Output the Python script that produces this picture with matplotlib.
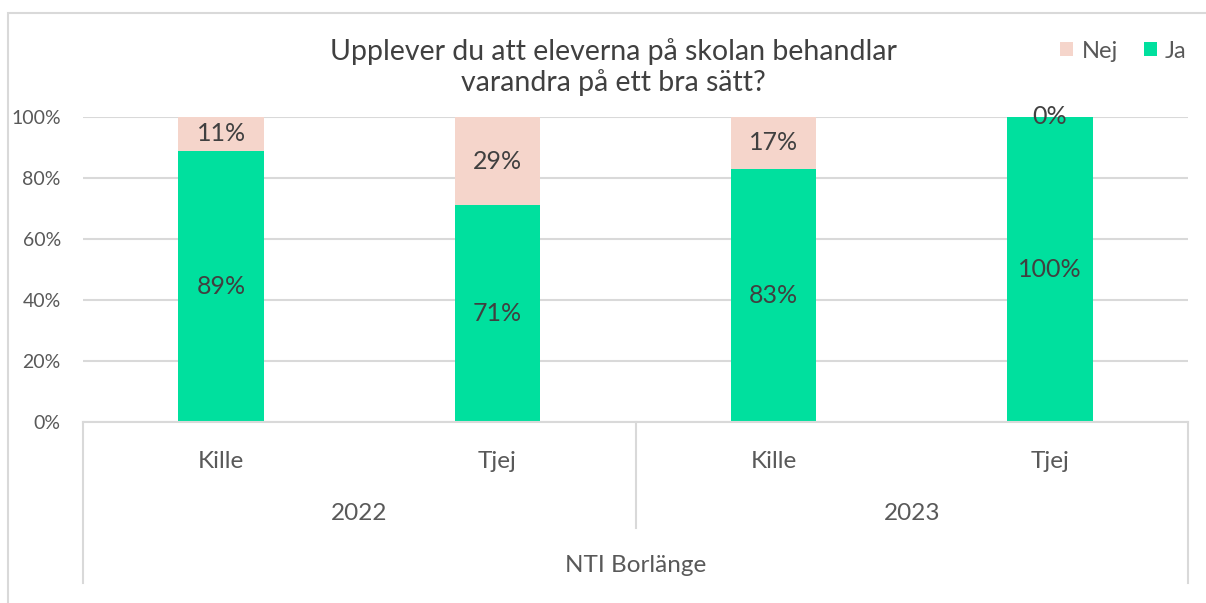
import numpy as np
import matplotlib.pyplot as plt
from matplotlib.lines import Line2D
from matplotlib.patches import Rectangle

# data
genders = ["Kille", "Tjej", "Kille", "Tjej"]
years = ["2022", "2023"]
school = "NTI Borlänge"
ja = [89, 71, 83, 100]
nej = [11, 29, 17, 0]

GREEN = "#00E09E"
PINK = "#F5D5CB"
TXT = "#404040"
GREY = "#595959"
LINE = "#D9D9D9"

plt.rcParams['font.family'] = ['Lato', 'DejaVu Sans']

W, H = 1206, 603
fig = plt.figure(figsize=(W / 100, H / 100), dpi=100)
ax = fig.add_axes([83 / W, 1 - 422 / H, (1188 - 83) / W, (422 - 117) / H])

x = np.arange(len(genders))
ax.bar(x, ja, width=0.31, color=GREEN, label="Ja", zorder=2)
ax.bar(x, nej, width=0.31, bottom=ja, color=PINK, label="Nej", zorder=2)

# value labels
for i in range(len(genders)):
    ax.text(x[i], ja[i] / 2, f"{ja[i]}%", ha="center", va="center", fontsize=18, color=TXT, zorder=3)
    ax.text(x[i], ja[i] + nej[i] / 2, f"{nej[i]}%", ha="center", va="center", fontsize=18, color=TXT, zorder=3)

ax.set_xlim(-0.5, len(genders) - 0.5)
ax.set_ylim(0, 100)
ax.set_yticks(np.arange(0, 101, 20))
ax.set_yticklabels([f"{v}%" for v in range(0, 101, 20)], fontsize=14, color=GREY)
ax.tick_params(axis="y", length=0, pad=16)
ax.tick_params(axis="x", length=0)
ax.set_xticks([])
ax.grid(axis="y", color=LINE, linewidth=1.5, zorder=0)
for s in ["top", "right", "left"]:
    ax.spines[s].set_visible(False)
ax.spines["bottom"].set_color(LINE)
ax.spines["bottom"].set_linewidth(1.5)

# multi-level category axis
def fy(py):
    return 1 - py / H

def fx(px):
    return px / W

x0, x1 = 83, 1188
step = (x1 - x0) / len(genders)
for i, g in enumerate(genders):
    fig.text(fx(x0 + step * (i + 0.5)), fy(461), g, ha="center", va="center", fontsize=17.5, color=GREY)
for j, yr in enumerate(years):
    fig.text(fx(x0 + step * (2 * j + 1)), fy(513), yr, ha="center", va="center", fontsize=17.5, color=GREY)
fig.text(fx((x0 + x1) / 2), fy(566), school, ha="center", va="center", fontsize=17.5, color=GREY)

for px, bot in [(x0, 583), (x0 + 2 * step, 528), (x1, 583)]:
    fig.add_artist(Line2D([fx(px), fx(px)], [fy(422), fy(bot)], color=LINE, linewidth=1.5))

# outer chart border
fig.add_artist(Rectangle((fx(8), -0.05), 1.1, fy(13) + 0.05, fill=False, edgecolor=LINE, linewidth=1.5))

# title
fig.text(fx(613), fy(67), "Upplever du att eleverna på skolan behandlar\nvarandra på ett bra sätt?",
         ha="center", va="center", fontsize=20.5, color=TXT, linespacing=1.2)

# legend
handles, labels = ax.get_legend_handles_labels()
leg = fig.legend(handles[::-1], labels[::-1], loc="center right", bbox_to_anchor=(fx(1208), fy(51)),
                 ncol=2, frameon=False, fontsize=17, handlelength=0.55, handleheight=0.55,
                 handletextpad=0.35, columnspacing=1.1, labelcolor=GREY)

fig.savefig("out.png", dpi=100, facecolor="white")
